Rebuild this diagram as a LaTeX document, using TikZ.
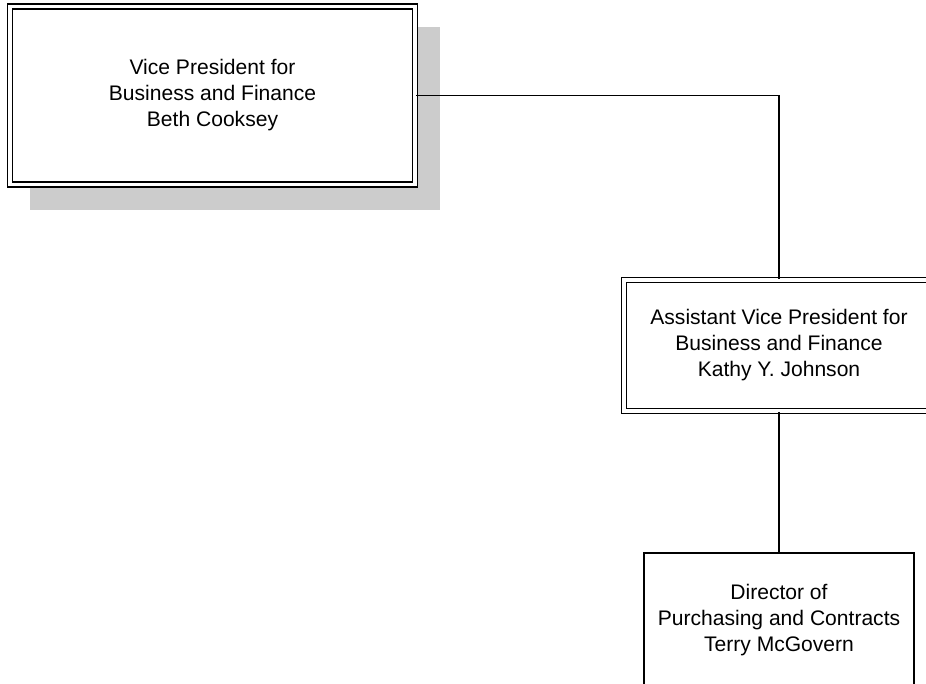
\documentclass[tikz,border=0pt]{standalone}
\usepackage{fontspec}
\setmainfont{Liberation Sans}
\usepackage{tikz}
\definecolor{shadowgray}{HTML}{CCCCCC}

\begin{document}
\begin{tikzpicture}[
        x=0.75pt, y=-0.75pt,
        every node/.style={
            rectangle,
            draw=black,
            line width=1.2pt,
            fill=white,
            align=center,
            inner sep=0pt,
            font=\fontsize{15.8}{19.5}\selectfont
        },
        dbl/.style={
            double,
            double distance=2.4pt,
            line width=1.2pt
        },
        link/.style={
            line width=1.1pt,
            color=black
        }
    ]
        \useasboundingbox (0,0) rectangle (926,683);
        \clip (0,0) rectangle (926,683);

        % shadow behind the top box
        \fill[shadowgray] (30,27) rectangle (440,210);

        \node (vp) [dbl, minimum width=303.75pt, minimum height=133.5pt] at (212.5,95.5) {Vice President for\\Business and Finance\\Beth Cooksey};
        \node (avp) [dbl, minimum width=232.5pt, minimum height=98.25pt] at (779,345.5) {Assistant Vice President for\\Business and Finance\\Kathy Y. Johnson};
        \node (dir) [minimum width=202.5pt, minimum height=100.5pt] at (779,620) {Director of\\Purchasing and Contracts\\Terry McGovern};

        \draw[link] (vp.east) -| (avp.north);
        \draw[link] (avp) -- (dir);
    \end{tikzpicture}
\end{document}
